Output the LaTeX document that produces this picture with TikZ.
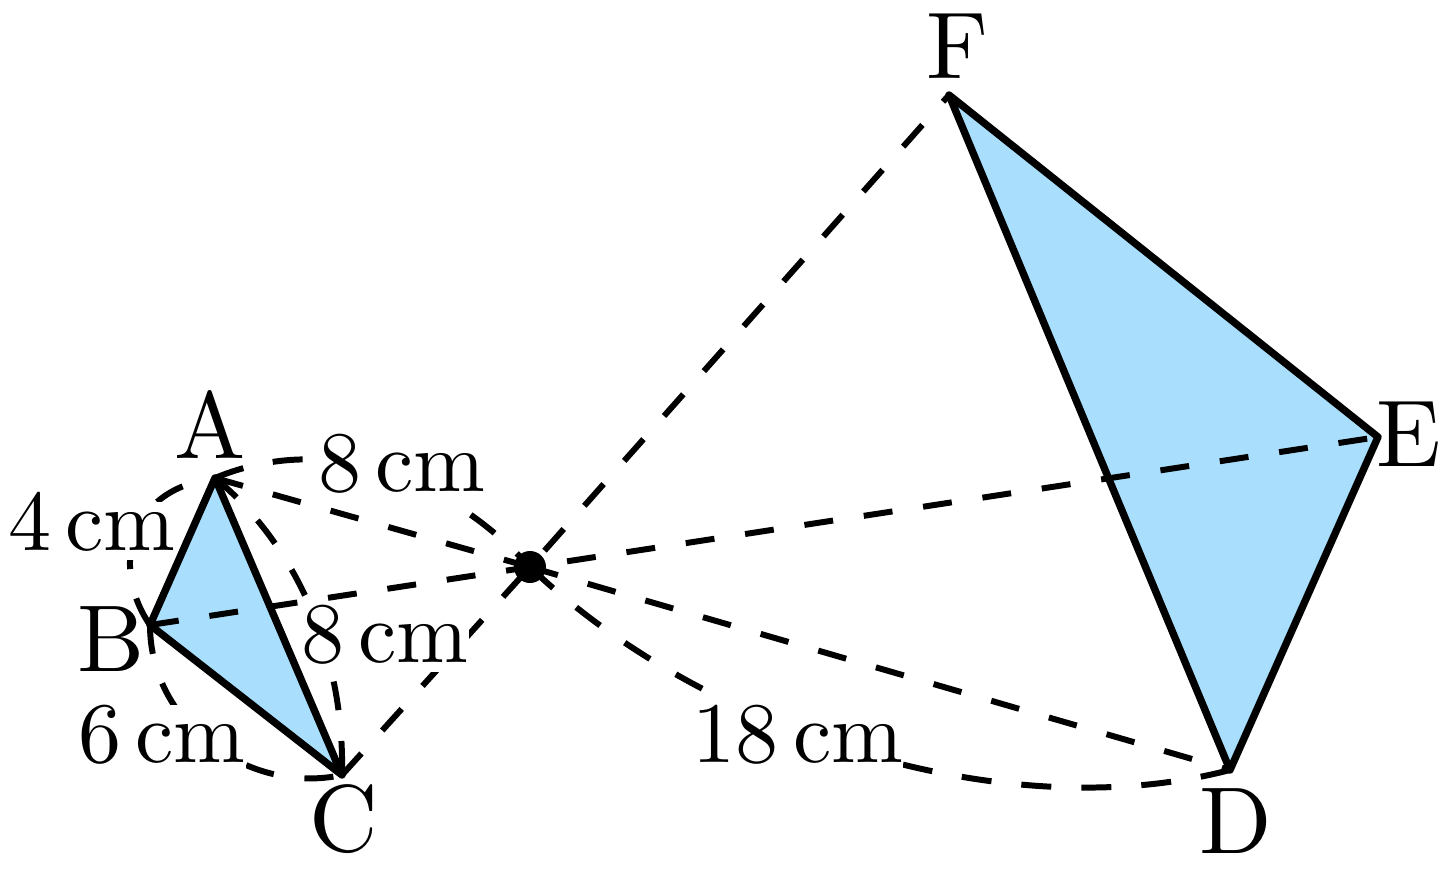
\documentclass[tikz,border=0pt]{standalone}
\definecolor{tri}{HTML}{A9DFFC}
\tikzset{
  dashline/.style={line width=1.7pt,dash pattern=on 8.25pt off 8.82pt},
  measure/.style={anchor=base,scale=2.45,fill=white,inner sep=0pt,text depth=1.2pt},
  vertex/.style={anchor=base,scale=2.7,inner sep=0pt},
  edge/.style={line width=2.1pt,line join=round},
}
\begin{document}
\begin{tikzpicture}[x=0.01cm,y=-0.01cm]
\useasboundingbox (0,0) rectangle (1438,884);
\coordinate (a) at (215,478);
\coordinate (b) at (150,625);
\coordinate (c) at (342,775);
\coordinate (d) at (1230,770);
\coordinate (e) at (1378,437);
\coordinate (f) at (949,95);
\coordinate (o) at (530,567);
\fill[tri] (a) -- (b) -- (c) -- cycle;
\fill[tri] (d) -- (e) -- (f) -- cycle;
\draw[dashline] (a) -- (o);
\draw[dashline] (b) -- (o);
\draw[dashline] (c) -- (o);
\draw[dashline] (o) -- (d);
\draw[dashline,dash phase=13.94pt] (e) -- (o);
\draw[dashline,dash phase=5.69pt] (f) -- (o);
\draw[dashline,dash pattern=on 8.54pt off 8.54pt on 8.54pt off 12.8pt on 8.54pt off 28pt] (b) .. controls (112,570) and (125,490) .. (a);
\draw[dashline] (b) .. controls (150,725) and (250,795) .. (c);
\draw[dashline] (a) .. controls (285,535) and (345,640) .. (c);
\draw[dashline,dash pattern=on 8.54pt off 8.54pt on 8.54pt off 51.2pt on 8.54pt off 8.54pt on 8.54pt off 28pt] (a) .. controls (330,430) and (450,480) .. (o);
\draw[dashline,dash pattern=on 8.54pt off 8.54pt on 8.54pt off 8.54pt on 8.54pt off 8.54pt on 8.54pt off 8.54pt on 8.54pt off 8.54pt on 8.54pt off 61.2pt on 8.54pt off 8.54pt on 8.54pt off 8.54pt on 8.54pt off 8.54pt on 8.54pt off 28pt] (d) .. controls (1000,830) and (700,730) .. (o);
\node[measure] (l1) at (402,491) {8\,cm};
\node[measure,text height=5.6pt] (l2) at (92,550) {4\,cm};
\node[measure] (l3) at (385,662) {8\,cm};
\node[measure] (l4) at (162,762) {6\,cm};
\node[measure] (l5) at (798,762) {18\,cm};
\draw[edge] (a) -- (b) -- (c) -- cycle;
\draw[edge] (d) -- (e) -- (f) -- cycle;
\fill (o) circle (16);
\node[vertex] (na) at (210,458) {A};
\node[vertex] (nb) at (111,671) {B};
\node[vertex] (nc) at (344,851) {C};
\node[vertex] (nd) at (1236,853) {D};
\node[vertex] (ne) at (1409,466) {E};
\node[vertex] (nf) at (957,78) {F};
\end{tikzpicture}
\end{document}
